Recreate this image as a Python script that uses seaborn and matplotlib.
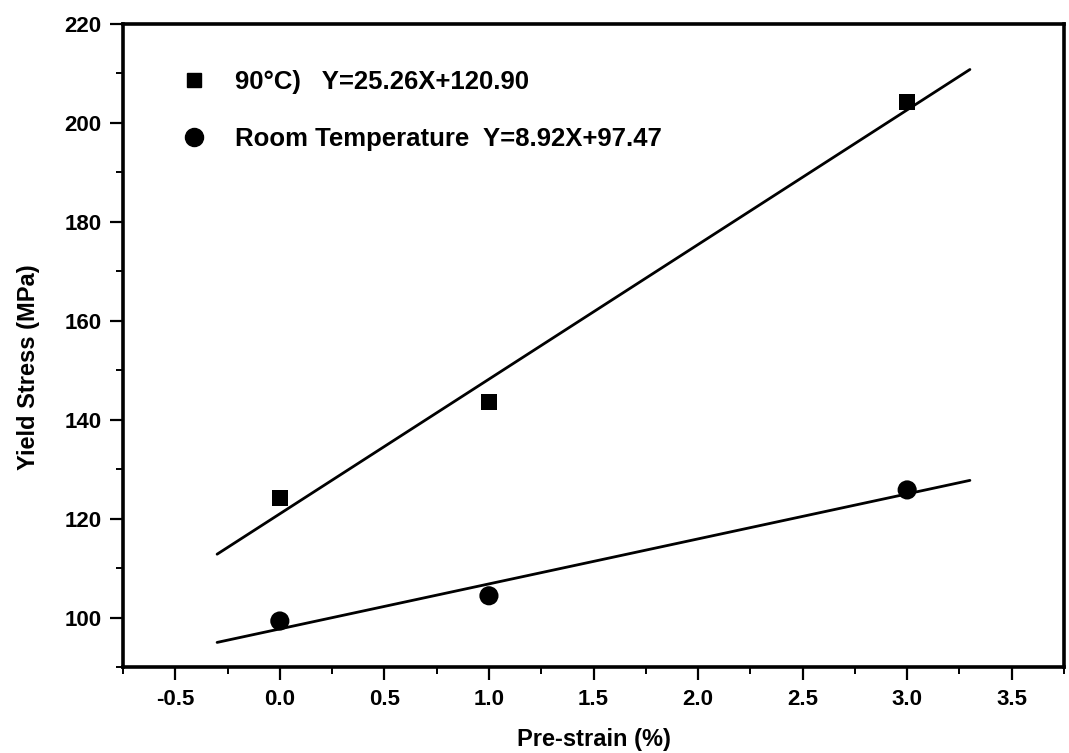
import numpy as np
import pandas as pd
import matplotlib
matplotlib.use("Agg")
import matplotlib.pyplot as plt
from matplotlib.lines import Line2D
from matplotlib.ticker import MultipleLocator
import seaborn as sns

# Measured yield stress vs. pre-strain
pre_strain = [0.0, 1.0, 3.0]
stress_90c = [124.1, 143.5, 204.2]
stress_room = [99.3, 104.4, 125.8]

series_labels = ["90°C)   Y=25.26X+120.90", "Room Temperature  Y=8.92X+97.47"]
fit_span = [-0.3, 3.3]

x_ticks = [-0.5, 0.0, 0.5, 1.0, 1.5, 2.0, 2.5, 3.0, 3.5]
y_ticks = [100, 120, 140, 160, 180, 200, 220]

sns.set_theme(style="ticks")
plt.rcParams["font.family"] = ["Liberation Sans", "DejaVu Sans"]
plt.rcParams["font.weight"] = "bold"
plt.rcParams["text.color"] = "black"
plt.rcParams["axes.labelcolor"] = "black"
plt.rcParams["xtick.color"] = "black"
plt.rcParams["ytick.color"] = "black"
plt.rcParams["xtick.labelcolor"] = "black"
plt.rcParams["ytick.labelcolor"] = "black"

fig = plt.figure(figsize=(10.69, 7.53), dpi=100)
ax = fig.add_axes([123 / 1069, 1 - 667 / 753, (1064 - 123) / 1069, (667 - 24) / 753])

series = [
    (stress_90c, "s", 132),
    (stress_room, "o", 190),
]

for values, marker, size in series:
    pts = pd.DataFrame({"x": pre_strain, "y": values})
    sns.scatterplot(data=pts, x="x", y="y", marker=marker, s=size,
                    color="black", edgecolor="none", legend=False, ax=ax, zorder=3)
    # least-squares line through the measured points
    slope, intercept = np.polyfit(pre_strain, values, 1)
    xs = np.array(fit_span)
    fit = pd.DataFrame({"x": xs, "y": slope * xs + intercept})
    sns.lineplot(data=fit, x="x", y="y", color="black", linewidth=2.0,
                 legend=False, ax=ax, zorder=2)

ax.set_xlim(-0.75, 3.75)
ax.set_ylim(90, 220)
ax.set_xticks(x_ticks)
ax.set_xticklabels([f"{v:.1f}" for v in x_ticks])
ax.set_yticks(y_ticks)
ax.set_yticklabels([str(v) for v in y_ticks])
ax.xaxis.set_minor_locator(MultipleLocator(0.25))
ax.yaxis.set_minor_locator(MultipleLocator(10))

for side in ["left", "bottom", "top", "right"]:
    ax.spines[side].set_visible(True)
    ax.spines[side].set_linewidth(2.6)
    ax.spines[side].set_color("black")

ax.tick_params(axis="both", which="major", direction="out", length=9.5, width=1.6,
               color="black", labelcolor="black", labelsize=16, pad=6,
               top=False, right=False)
ax.tick_params(axis="both", which="minor", direction="out", length=5, width=1.4,
               color="black", top=False, right=False)
for lab in ax.get_xticklabels() + ax.get_yticklabels():
    lab.set_fontweight("bold")

ax.set_xlabel("Pre-strain (%)", fontsize=17, fontweight="bold", labelpad=13,
              color="black")
ax.set_ylabel("Yield Stress (MPa)", fontsize=17, fontweight="bold", color="black")
ax.yaxis.set_label_coords(-0.088, 0.467)

handles = [
    Line2D([], [], linestyle="none", marker="s", markersize=9.5,
           markerfacecolor="black", markeredgecolor="black"),
    Line2D([], [], linestyle="none", marker="o", markersize=13,
           markerfacecolor="black", markeredgecolor="black"),
]
leg = ax.legend(handles, series_labels, loc="upper left",
                bbox_to_anchor=(181 / 1069, 1 - 70 / 753), bbox_transform=fig.transFigure,
                frameon=False, fontsize=18.5, handlelength=1.0, handletextpad=1.1,
                borderpad=0, borderaxespad=0, labelspacing=1.3)
for t in leg.get_texts():
    t.set_fontweight("bold")
    t.set_color("black")

ax.set_facecolor("white")
fig.patch.set_facecolor("white")
fig.savefig("out.png", dpi=100, facecolor="white")
